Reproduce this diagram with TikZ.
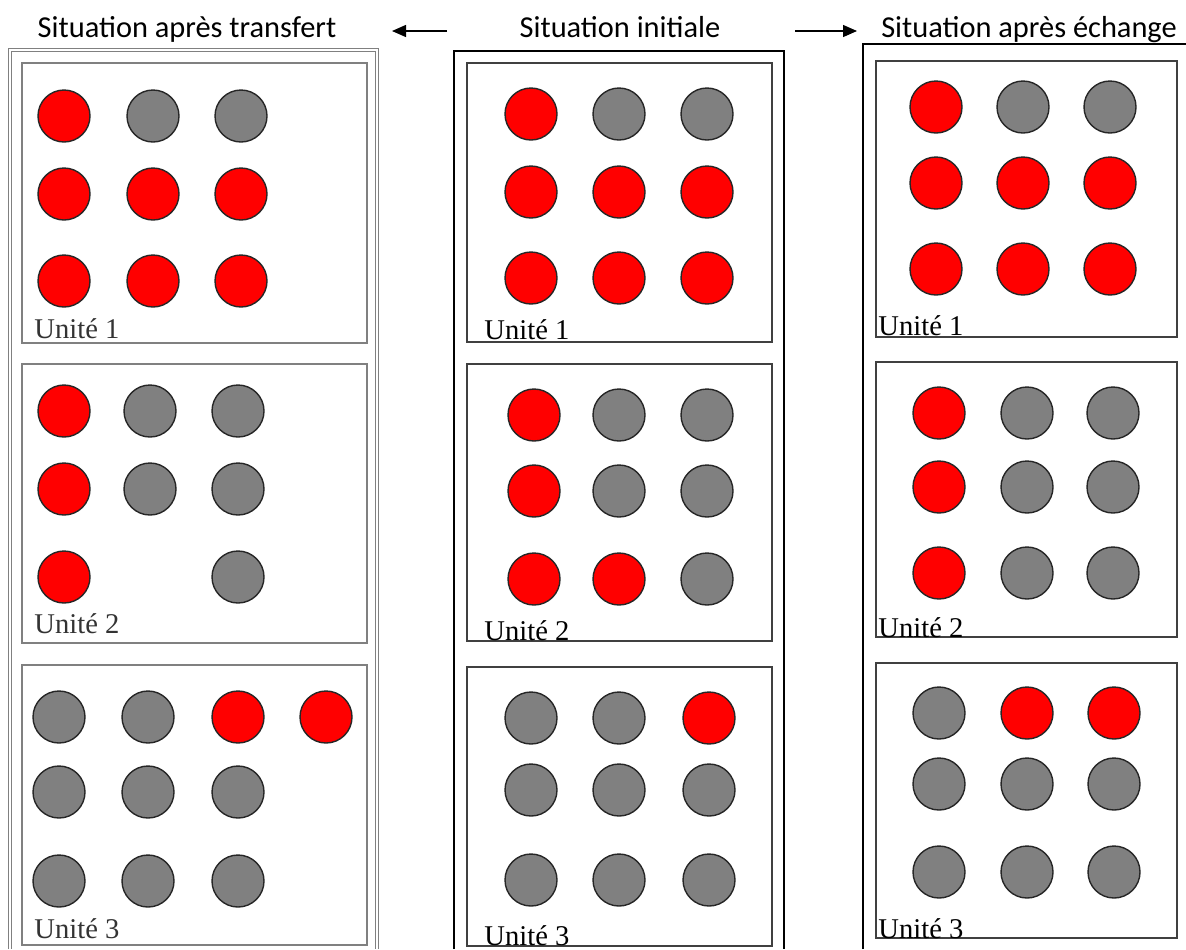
\documentclass[tikz,border=0pt]{standalone}
\usepackage{fontspec}
\setmainfont{Liberation Serif}
\newfontfamily\carlito{Carlito}
\usetikzlibrary{arrows.meta}

\begin{document}
\begin{tikzpicture}[
    x=0.5pt, y=-0.5pt,   % une unité = un pixel de l'image
    % Boules rouges et grises
    rouge/.style={circle, draw=black!85, fill=red, line width=0.7pt, minimum size=26pt, inner sep=0pt},
    gris/.style={circle, draw=black!85, fill=gray, line width=0.7pt, minimum size=26pt, inner sep=0pt},
    % Cadres des unités
    unite/.style={draw=black!75, line width=0.9pt},
    uniteg/.style={draw=gray, line width=1.2pt},
    cadre/.style={draw=black, line width=0.7pt},
    cadreg/.style={draw=gray, double=white, double distance=0.8pt, line width=0.6pt},
    titre/.style={font=\carlito\fontsize{15.2}{18}\selectfont, anchor=base},
    etiq/.style={font=\fontsize{14.3}{16}\selectfont, anchor=base west, inner sep=0pt},
    fleche/.style={draw, line width=0.65pt, -{Triangle[length=7pt, width=6pt]}}
]
\useasboundingbox (0,0) rectangle (1186,949);

% Titres et flèches
\node[titre] (transfert) at (187,37) {Situation après transfert};
\node[titre] (initiale) at (620,37) {Situation initiale};
\node[titre] (echange) at (1029,37) {Situation après échange};
\coordinate (g1) at (447,31);
\coordinate (g2) at (392,31);
\coordinate (d1) at (795,31);
\coordinate (d2) at (857,31);
\draw[fleche] (g1) -- (g2);
\draw[fleche] (d1) -- (d2);

% Cadres extérieurs
\draw[cadreg] (10,949) -- (10,50) -- (377,50) -- (377,949);
\draw[cadre] (454,949) -- (454,51) -- (784,51) -- (784,949);
\draw[cadre] (863,949) -- (863,44) -- (1186,44);

% Situation après transfert
\draw[uniteg] (22,63) rectangle (367,343);
\draw[uniteg] (22,364) rectangle (367,643);
\draw[uniteg] (22,665) rectangle (367,945);
\node[etiq, text=black!80] (t1) at (34,338) {Unité 1};
\node[etiq, text=black!80] (t2) at (34,633) {Unité 2};
\node[etiq, text=black!80] (t3) at (34,938) {Unité 3};
\foreach \x/\y/\c [count=\i] in {64/116/rouge, 153/116/gris, 241/116/gris,
    64/194/rouge, 153/194/rouge, 241/194/rouge,
    64/281/rouge, 153/281/rouge, 241/281/rouge}
    \node[\c] (ta\i) at (\x,\y) {};
\foreach \x/\y/\c [count=\i] in {64/411/rouge, 150/411/gris, 238/411/gris,
    64/489/rouge, 150/489/gris, 238/489/gris,
    64/577/rouge, 238/577/gris}
    \node[\c] (tb\i) at (\x,\y) {};
\foreach \x/\y/\c [count=\i] in {59/717/gris, 148/717/gris, 238/717/rouge, 326/717/rouge,
    59/792/gris, 148/792/gris, 238/792/gris,
    59/881/gris, 148/881/gris, 238/881/gris}
    \node[\c] (tc\i) at (\x,\y) {};

% Situation initiale
\draw[unite] (467,63) rectangle (772,342);
\draw[unite] (467,364) rectangle (772,641);
\draw[unite] (467,667) rectangle (772,946);
\node[etiq] (i1) at (484,339) {Unité 1};
\node[etiq] (i2) at (484,640) {Unité 2};
\node[etiq] (i3) at (484,945) {Unité 3};
\foreach \x/\y/\c [count=\i] in {531/114/rouge, 619/114/gris, 707/114/gris,
    531/192/rouge, 619/192/rouge, 707/192/rouge,
    531/278/rouge, 619/278/rouge, 707/278/rouge}
    \node[\c] (ia\i) at (\x,\y) {};
\foreach \x/\y/\c [count=\i] in {534/415/rouge, 619/415/gris, 707/415/gris,
    534/491/rouge, 619/491/gris, 707/491/gris,
    534/579/rouge, 619/579/rouge, 707/579/gris}
    \node[\c] (ib\i) at (\x,\y) {};
\foreach \x/\y/\c [count=\i] in {531/718/gris, 619/718/gris, 709/718/rouge,
    531/790/gris, 619/790/gris, 709/790/gris,
    531/880/gris, 619/880/gris, 709/880/gris}
    \node[\c] (ic\i) at (\x,\y) {};

% Situation après échange
\draw[unite] (876,61) rectangle (1177,337);
\draw[unite] (876,362) rectangle (1177,637);
\draw[unite] (876,663) rectangle (1177,938);
\node[etiq] (e1) at (878,335) {Unité 1};
\node[etiq] (e2) at (878,637) {Unité 2};
\node[etiq] (e3) at (878,938) {Unité 3};
\foreach \x/\y/\c [count=\i] in {936/107/rouge, 1023/107/gris, 1110/107/gris,
    936/183/rouge, 1023/183/rouge, 1110/183/rouge,
    936/269/rouge, 1023/269/rouge, 1110/269/rouge}
    \node[\c] (ea\i) at (\x,\y) {};
\foreach \x/\y/\c [count=\i] in {939/413/rouge, 1027/413/gris, 1113/413/gris,
    939/487/rouge, 1027/487/gris, 1113/487/gris,
    939/573/rouge, 1027/573/gris, 1113/573/gris}
    \node[\c] (eb\i) at (\x,\y) {};
\foreach \x/\y/\c [count=\i] in {939/713/gris, 1027/713/rouge, 1114/713/rouge,
    939/784/gris, 1027/784/gris, 1114/784/gris,
    939/872/gris, 1027/872/gris, 1114/872/gris}
    \node[\c] (ec\i) at (\x,\y) {};
\end{tikzpicture}
\end{document}
